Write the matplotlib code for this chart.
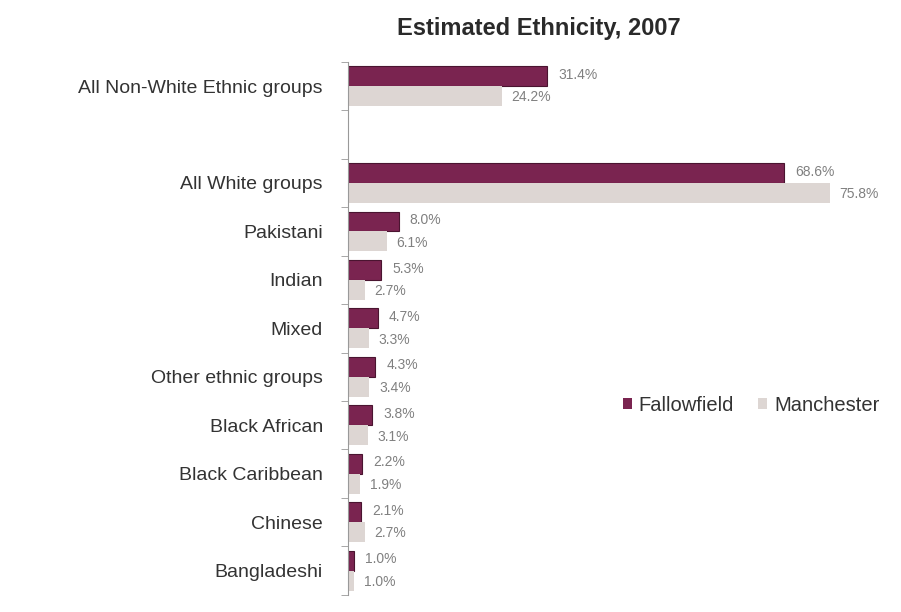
import numpy as np
import matplotlib
matplotlib.use("Agg")
import matplotlib.pyplot as plt

plt.rcParams["font.family"] = ["Liberation Sans", "DejaVu Sans"]

# top to bottom; empty string is the blank slot in the original
categories = ["All Non-White Ethnic groups", "", "All White groups", "Pakistani", "Indian",
              "Mixed", "Other ethnic groups", "Black African", "Black Caribbean",
              "Chinese", "Bangladeshi"]
fallowfield = [31.4, None, 68.6, 8.0, 5.3, 4.7, 4.3, 3.8, 2.2, 2.1, 1.0]
manchester = [24.2, None, 75.8, 6.1, 2.7, 3.3, 3.4, 3.1, 1.9, 2.7, 1.0]

FALLOW_COLOR = "#7a2450"
MANC_COLOR = "#ddd6d3"

fig = plt.figure(figsize=(9.01, 6.12), dpi=100)
ax = fig.add_axes([0.386, 0.028, 0.60, 0.871])

n = len(categories)
y = np.arange(n)
h = 0.41

for i in range(n):
    if fallowfield[i] is None:
        continue
    ax.barh(y[i] - h / 2, fallowfield[i], height=h, color=FALLOW_COLOR,
            edgecolor="#4a1430", linewidth=0.8)
    ax.barh(y[i] + h / 2, manchester[i], height=h, color=MANC_COLOR, linewidth=0)
    ax.annotate(f"{fallowfield[i]:.1f}%", (fallowfield[i], y[i] - h / 2),
                xytext=(8, 1), textcoords="offset points", va="center",
                fontsize=10, color="#808080")
    ax.annotate(f"{manchester[i]:.1f}%", (manchester[i], y[i] + h / 2),
                xytext=(7, -1), textcoords="offset points", va="center",
                fontsize=10, color="#808080")

# legend handles
ax.barh([0], [0], color=FALLOW_COLOR, label="Fallowfield")
ax.barh([0], [0], color=MANC_COLOR, label="Manchester")

ax.set_ylim(n - 0.5, -0.5)
ax.set_xlim(0, 85)
ax.set_yticks(y)
ax.set_yticklabels(categories, fontsize=14, color="#333333")
ax.tick_params(axis="y", which="major", length=0, pad=18)
ax.set_yticks(np.arange(n + 1) - 0.5, minor=True)
ax.tick_params(axis="y", which="minor", length=5, color="#999999")
ax.set_xticks([])
for s in ["top", "right", "bottom"]:
    ax.spines[s].set_visible(False)
ax.spines["left"].set_color("#999999")

fig.text(0.598, 0.954, "Estimated Ethnicity, 2007", ha="center", va="center",
         fontsize=17, fontweight="bold", color="#2a2a2a")

ax.legend(loc="center left", bbox_to_anchor=(0.49, 0.356), ncol=2, frameon=False,
          fontsize=14.5, handlelength=0.45, handleheight=0.45, handletextpad=0.35,
          columnspacing=1.2, borderpad=0, labelcolor="#333333")

fig.savefig("out.png", dpi=100)
